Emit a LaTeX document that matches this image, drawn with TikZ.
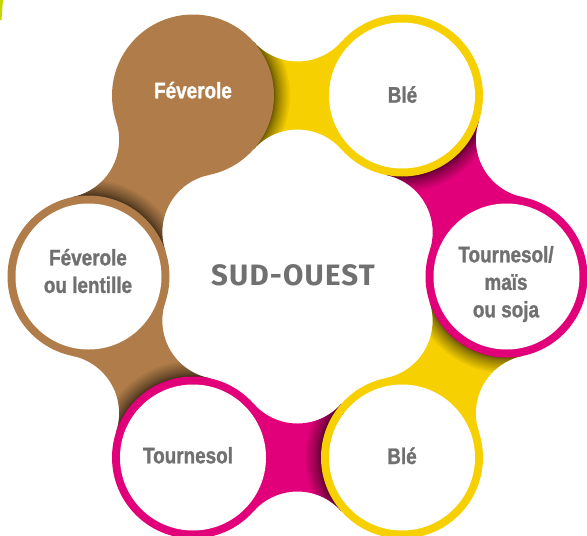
\documentclass[tikz,border=0pt]{standalone}
\usepackage{fontspec}
\newfontfamily\condfont[FakeStretch=0.84, BoldFeatures={FakeBold=1.2}]{Liberation Sans}
\newfontfamily\sudfont[LetterSpace=4]{Fira Sans}
\definecolor{brun}{HTML}{B07D4A}
\definecolor{jaune}{HTML}{F6D000}
\definecolor{rose}{HTML}{E2007A}
\definecolor{gristxt}{HTML}{707070}
\definecolor{vertjaune}{HTML}{C4D600}
\newcommand\bandpath{(0,0) -- (60.61,53.74) arc[start angle=221.56, end angle=318.44, radius=58.67] -- (209,0) -- (148.39,-53.74) arc[start angle=41.56, end angle=138.44, radius=58.67] -- cycle}
\newcommand\drawband[3]{%
  \begin{scope}[shift={(#1)}, rotate=#2]
    \fill[#3] \bandpath;
    \begin{scope}
      \clip \bandpath;
      \foreach \k in {1,...,15} \fill[black, opacity=0.06] (0,0) circle ({81+0.07*\k*\k});
    \end{scope}
  \end{scope}}
\tikzset{
  lab/.style={font=\condfont\bfseries\fontsize{22.5}{27.5}\selectfont, text=gristxt, inner sep=0pt},
  sud/.style={font=\sudfont\bfseries\fontsize{29.5}{34}\selectfont, text=gristxt, inner sep=0pt}
}
\begin{document}
\begin{tikzpicture}[x=1pt,y=-1pt]
\useasboundingbox (0,0) rectangle (587,536);
\fill[vertjaune] (0,0) -- (3,0) -- (1.5,20) -- (0,20) -- cycle;
\coordinate (c1) at (193,95.5);
\coordinate (c2) at (402,95.5);
\coordinate (c3) at (506.5,276.5);
\coordinate (c4) at (402,457.5);
\coordinate (c5) at (193,457.5);
\coordinate (c6) at (88.5,276.5);
% bands
\drawband{c1}{0}{jaune}
\drawband{c2}{-60}{rose}
\drawband{c3}{-120}{jaune}
\drawband{c4}{-180}{rose}
\drawband{c5}{-240}{brun}
\drawband{c6}{-300}{brun}
% circles
\fill[brun] (c1) circle (81);
\fill[jaune] (c2) circle (81); \fill[white] (c2) circle (73);
\fill[rose] (c3) circle (81); \fill[white] (c3) circle (73);
\fill[jaune] (c4) circle (81); \fill[white] (c4) circle (73);
\fill[rose] (c5) circle (81); \fill[white] (c5) circle (73);
\fill[brun] (c6) circle (81); \fill[white] (c6) circle (73);
% texts
\node[lab, text=white, anchor=base] (t1) at (193,98.3) {Féverole};
\node[lab, anchor=base] (t2) at (402.5,102.7) {Blé};
\node[lab, align=center] (t3) at (506,284) {Tournesol/\\maïs\\ou soja};
\node[lab, anchor=base] (t4) at (402,464) {Blé};
\node[lab, anchor=base] (t5) at (188,463.3) {Tournesol};
\node[lab, align=center] (t6) at (88,271) {Féverole\\ou lentille};
\node[sud, anchor=base] (t0) at (293,285) {SUD-OUEST};
\end{tikzpicture}
\end{document}
